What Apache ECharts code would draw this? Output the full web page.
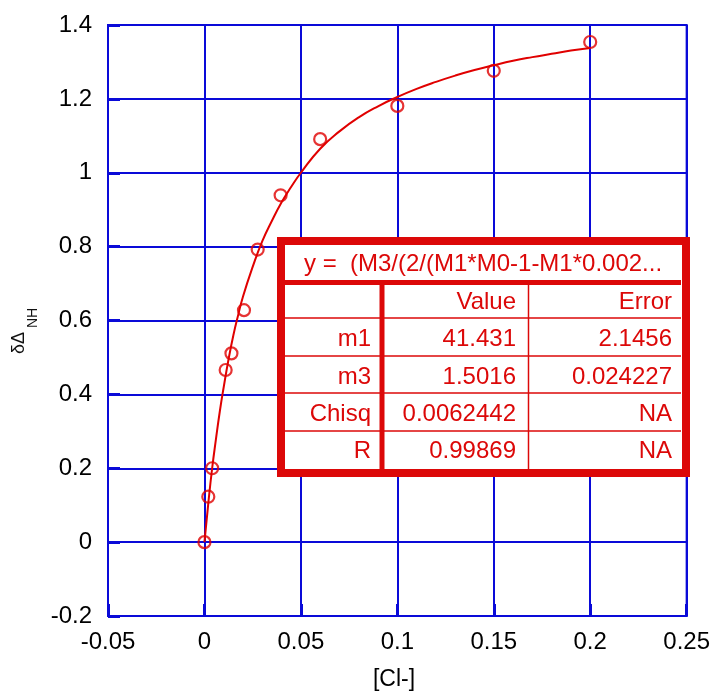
<!DOCTYPE html>
<html>
<head>
<meta charset="utf-8">
<script src="https://cdn.jsdelivr.net/npm/echarts/dist/echarts.min.js"></script>
<style>
html,body{margin:0;padding:0;background:#fff;}
#chart{width:713px;height:692px;}
</style>
</head>
<body>
<div id="chart"></div>
<script>
// ---- data ----
const obsX = [0, 0.002, 0.004, 0.011, 0.014, 0.0205, 0.0276, 0.0395, 0.06, 0.1, 0.15, 0.2];
const obsY = [0, 0.123, 0.200, 0.466, 0.511, 0.628, 0.792, 0.939, 1.091, 1.181, 1.276, 1.354];

const fitX = [0, 0.002, 0.004, 0.006, 0.008, 0.01, 0.0125, 0.015, 0.0175, 0.02, 0.025, 0.03, 0.035, 0.04, 0.045, 0.05, 0.06, 0.07, 0.08, 0.09, 0.1, 0.11, 0.12, 0.13, 0.14, 0.15, 0.16, 0.17, 0.18, 0.19, 0.2];
const fitY = [0, 0.105, 0.200, 0.280, 0.355, 0.420, 0.495, 0.560, 0.615, 0.665, 0.745, 0.815, 0.870, 0.920, 0.962, 1.000, 1.065, 1.112, 1.150, 1.180, 1.205, 1.227, 1.246, 1.263, 1.278, 1.291, 1.303, 1.313, 1.322, 1.331, 1.338];

const xTickLabels = ['-0.05', '0', '0.05', '0.1', '0.15', '0.2', '0.25'];
const yTickLabels = ['-0.2', '0', '0.2', '0.4', '0.6', '0.8', '1', '1.2', '1.4'];

const xAxisTitle = '[Cl-]';
const yAxisTitleMain = 'δΔ';
const yAxisTitleSub = 'NH';

const tableTitle = 'y =  (M3/(2/(M1*M0-1-M1*0.002...';
const tableHeader = ['', 'Value', 'Error'];
const tableRows = [
  ['m1', '41.431', '2.1456'],
  ['m3', '1.5016', '0.024227'],
  ['Chisq', '0.0062442', 'NA'],
  ['R', '0.99869', 'NA']
];

// ---- chart ----
const FONT = "'Liberation Sans', Arial, sans-serif";
const BLUE = '#0a0ad8';
const RED = '#e00000';
const TRED = '#dc0808';

const obsData = obsX.map((x, i) => [x, obsY[i]]);
const fitData = fitX.map((x, i) => [x, fitY[i]]);

const graphic = [];
// y-axis title (rotated)
graphic.push({
  type: 'text', x: 19, y: 343, rotation: Math.PI / 2, z: 100,
  style: { text: yAxisTitleMain, fill: '#111', font: '18px ' + FONT,
           align: 'center', verticalAlign: 'middle', textAlign: 'center', textVerticalAlign: 'middle' }
});
graphic.push({
  type: 'text', x: 33, y: 318, rotation: Math.PI / 2, z: 100,
  style: { text: yAxisTitleSub, fill: '#111', font: '14px ' + FONT,
           align: 'center', verticalAlign: 'middle', textAlign: 'center', textVerticalAlign: 'middle' }
});
// x-axis title
graphic.push({
  type: 'text', x: 394, y: 680, z: 100,
  style: { text: xAxisTitle, fill: '#000', font: '23px ' + FONT,
           align: 'center', verticalAlign: 'middle', textAlign: 'center', textVerticalAlign: 'middle' }
});

// table box
const tL = 281, tT = 241, tW = 405, tH = 232;
graphic.push({
  type: 'rect', z: 100,
  shape: { x: tL, y: tT, width: tW, height: tH },
  style: { fill: '#fff', stroke: TRED, lineWidth: 8 }
});
const innerL = 285, innerR = 681;
graphic.push({
  type: 'line', z: 101,
  shape: { x1: innerL, y1: 282.5, x2: innerR, y2: 282.5 },
  style: { stroke: TRED, lineWidth: 5 }
});
const rowLines = [318, 356, 393, 431];
rowLines.forEach(y => graphic.push({
  type: 'line', z: 101,
  shape: { x1: innerL, y1: y, x2: innerR, y2: y },
  style: { stroke: TRED, lineWidth: 1.5 }
}));
graphic.push({
  type: 'line', z: 101,
  shape: { x1: 382, y1: 285, x2: 382, y2: 469 },
  style: { stroke: TRED, lineWidth: 5 }
});
graphic.push({
  type: 'line', z: 101,
  shape: { x1: 528.5, y1: 285, x2: 528.5, y2: 469 },
  style: { stroke: TRED, lineWidth: 1.5 }
});
graphic.push({
  type: 'text', x: 304, y: 264, z: 102,
  style: { text: tableTitle, fill: TRED, font: '24px ' + FONT,
           align: 'left', verticalAlign: 'middle', textAlign: 'left', textVerticalAlign: 'middle' }
});
const colRight = [371, 516, 672];
const rowMid = [302, 339, 377, 414, 451];
const allRows = [tableHeader].concat(tableRows);
allRows.forEach((row, r) => {
  row.forEach((cell, c) => {
    if (!cell) return;
    graphic.push({
      type: 'text', x: colRight[c], y: rowMid[r], z: 102,
      style: { text: cell, fill: TRED, font: '24px ' + FONT,
               align: 'right', verticalAlign: 'middle', textAlign: 'right', textVerticalAlign: 'middle' }
    });
  });
});

const chart = echarts.init(document.getElementById('chart'), null, { renderer: 'canvas' });
chart.setOption({
  backgroundColor: '#fff',
  animation: false,
  grid: { left: 108, top: 25, width: 579, height: 591, show: true, borderColor: BLUE, borderWidth: 2, containLabel: false },
  xAxis: {
    type: 'value', min: -0.05, max: 0.25, interval: 0.05,
    axisLine: { show: true, onZero: false, lineStyle: { color: BLUE, width: 2 } },
    axisTick: { show: true, inside: true, length: 12, lineStyle: { color: BLUE, width: 3 } },
    splitLine: { show: true, lineStyle: { color: BLUE, width: 2 } },
    axisLabel: { color: '#000', fontSize: 24, fontFamily: FONT, margin: 14,
      formatter: (v, i) => xTickLabels[i] !== undefined ? xTickLabels[i] : String(v) }
  },
  yAxis: {
    type: 'value', min: -0.2, max: 1.4, interval: 0.2,
    axisLine: { show: true, onZero: false, lineStyle: { color: BLUE, width: 2 } },
    axisTick: { show: true, inside: true, length: 12, lineStyle: { color: BLUE, width: 3 } },
    splitLine: { show: true, lineStyle: { color: BLUE, width: 2 } },
    axisLabel: { color: '#000', fontSize: 24, fontFamily: FONT, margin: 16,
      formatter: (v, i) => yTickLabels[i] !== undefined ? yTickLabels[i] : String(v) }
  },
  series: [
    {
      type: 'line', data: fitData, smooth: true, showSymbol: false,
      lineStyle: { color: RED, width: 2 }, z: 3
    },
    {
      type: 'scatter', data: obsData, symbol: 'circle', symbolSize: 12,
      itemStyle: { color: 'rgba(0,0,0,0)', borderColor: RED, borderWidth: 2.2 }, z: 4
    }
  ],
  graphic: graphic
});
</script>
</body>
</html>
